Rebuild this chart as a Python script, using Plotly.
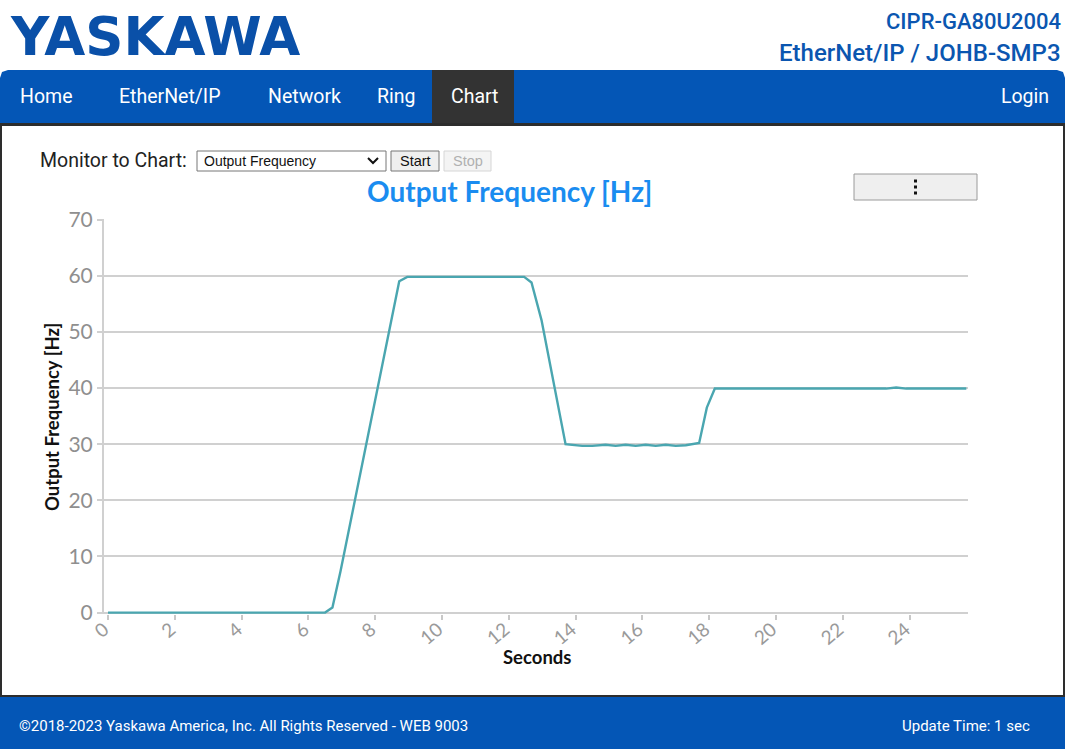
import plotly.graph_objects as go

# ---- data ----
seconds = [0, 6.5, 6.72, 6.96, 8.72, 8.96, 12.46, 12.68, 12.98, 13.7, 14.2, 14.5,
           14.9, 15.2, 15.5, 15.8, 16.1, 16.4, 16.7, 17.0, 17.3, 17.7, 17.93, 18.17,
           23.3, 23.6, 23.9, 25.7]
output_hz = [0, 0, 0.9, 7.3, 59.0, 59.8, 59.8, 58.8, 52.1, 30.0, 29.7, 29.7,
             29.9, 29.7, 29.9, 29.7, 29.9, 29.7, 29.9, 29.7, 29.8, 30.2, 36.5, 39.9,
             39.9, 40.1, 39.9, 39.9]
x_ticks = [0, 2, 4, 6, 8, 10, 12, 14, 16, 18, 20, 22, 24]
y_ticks = [0, 10, 20, 30, 40, 50, 60, 70]
nav_items = ["Home", "EtherNet/IP", "Network", "Ring", "Chart"]

W, H = 1065, 749
L, R, T, B = 104, 968, 219, 614


def px(x):
    return (x - L) / (R - L)


def py(y):
    return (B - y) / (B - T)


BLUE = "#0456b6"
shapes = []
annotations = []


def rect(x0, y0, x1, y1, fill, line_color=None, lw=0):
    shapes.append(dict(type="rect", xref="paper", yref="paper",
                       x0=px(x0), x1=px(x1), y0=py(y1), y1=py(y0),
                       fillcolor=fill, layer="below",
                       line=dict(color=line_color or fill, width=lw)))


def text(s, x, y, size, color, xanchor="left", family="Roboto", weight="normal", angle=0):
    annotations.append(dict(text=s, x=px(x), y=py(y), xref="paper", yref="paper",
                            showarrow=False, xanchor=xanchor, yanchor="middle",
                            textangle=angle,
                            font=dict(size=size, color=color, family=family, weight=weight)))


def path(points, fill):
    d = "M " + " L ".join(f"{px(a):.5f},{py(b):.5f}" for a, b in points) + " Z"
    shapes.append(dict(type="path", xref="paper", yref="paper", path=d,
                       fillcolor=fill, line=dict(width=0), layer="below"))


# header
text("YASKAWA", 8, 36, 53, "#0a50a8", family="DejaVu Sans", weight="bold")
text("CIPR-GA80U2004", 1063, 21, 22, "#0b56b0", xanchor="right", weight=500)
text("EtherNet/IP / JOHB-SMP3", 1063, 53, 24, "#0b56b0", xanchor="right", weight=500)

# nav bar with rounded top corners
path([(0, 125), (0, 78), (2, 72), (8, 70), (1057, 70), (1063, 72), (1065, 78), (1065, 125)], BLUE)
rect(432, 70, 514, 125, "#333333")
rect(0, 123, 1065, 126, "#2d2d2d")
nav_x = [18, 117, 266, 375, 449]
for s, x in zip(nav_items, nav_x):
    text(s, x, 97, 19.5, "white")
text("Login", 1051, 97, 19.5, "white", xanchor="right")

# content borders
rect(0, 125, 2, 697, "#2d2d2d")
rect(1063, 125, 1065, 697, "#2d2d2d")

# footer
rect(0, 696, 1065, 749, BLUE)
rect(0, 695, 1065, 697, "#2d2d2d")
text("©2018-2023 Yaskawa America, Inc. All Rights Reserved - WEB 9003", 17, 726, 15, "white")
text("Update Time: 1 sec", 1032, 726, 15, "white", xanchor="right")

# controls
text("Monitor to Chart:", 38, 160, 19.5, "#222222")
rect(197, 151, 386, 171, "white", "#767676", 1)
text("Output Frequency", 202, 161, 14, "#111111", family="Liberation Sans")
shapes.append(dict(type="path", xref="paper", yref="paper",
                   path=f"M {px(368):.5f},{py(158):.5f} L {px(373):.5f},{py(163):.5f} L {px(378):.5f},{py(158):.5f}",
                   line=dict(color="#111111", width=2)))
rect(391, 151, 439, 171, "#efefef", "#767676", 1)
text("Start", 415, 161, 14.5, "#111111", xanchor="center", family="Liberation Sans")
rect(444, 151, 491, 171, "#f4f4f4", "#d6d6d6", 1)
text("Stop", 467.5, 161, 14.5, "#b0b0b0", xanchor="center", family="Liberation Sans")

# menu button
rect(854, 174, 977, 200, "#efefef", "#9a9a9a", 1)
for yy in (181, 187, 193):
    rect(914, yy - 1.5, 917, yy + 1.5, "#111111")

# chart titles
text("Output Frequency [Hz]", 509, 191, 28, "#1a8cf0", xanchor="center", family="Lato", weight="bold")
text("Output Frequency [Hz]", 52, 417, 18.5, "#111111", xanchor="center", family="Lato", weight="bold", angle=-90)
text("Seconds", 537, 657, 18.5, "#111111", xanchor="center", family="Lato", weight="bold")

fig = go.Figure()
fig.add_trace(go.Scatter(x=seconds, y=output_hz, mode="lines",
                         line=dict(color="#4aa6b0", width=2.4),
                         hoverinfo="x+y", showlegend=False))

fig.update_layout(
    width=W, height=H,
    margin=dict(l=L, r=W - R, t=T, b=H - B, pad=0),
    paper_bgcolor="white", plot_bgcolor="white",
    shapes=shapes, annotations=annotations,
    showlegend=False,
    xaxis=dict(range=[-0.12, 25.75], tickvals=x_ticks, tickangle=-40,
               showgrid=False, zeroline=False, showline=False,
               ticks="outside", ticklen=5, tickcolor="#c8c8c8", tickwidth=1.5,
               ticklabelstandoff=-9, ticklabelshift=-4,
               tickfont=dict(family="Lato", size=19, color="#9a9a9a")),
    yaxis=dict(range=[-0.25, 70.1], tickvals=y_ticks,
               showgrid=True, gridcolor="#d0d0d0", gridwidth=2,
               zeroline=False, showline=True, linecolor="#d0d0d0", linewidth=2,
               ticks="outside", ticklen=5, tickcolor="#d0d0d0", tickwidth=2,
               tickfont=dict(family="Lato", size=21, color="#8f8f8f")),
)

fig.write_html("out.html", config={"displayModeBar": False},
               post_script="document.body.style.margin='0';")
